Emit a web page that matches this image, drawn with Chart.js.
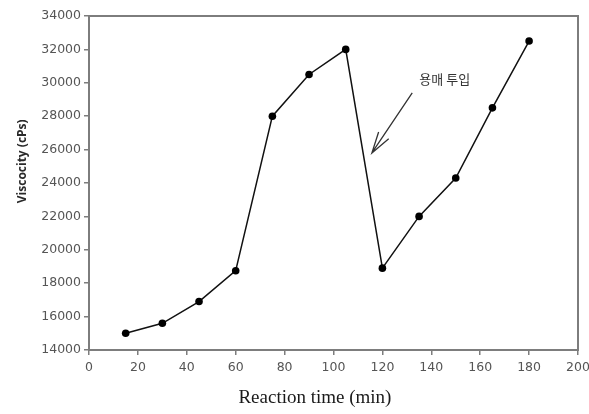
<!DOCTYPE html>
<html lang="en">
<head>
    <meta charset="UTF-8">
    <title>Viscosity vs reaction time</title>
    <script src="https://cdn.jsdelivr.net/npm/chart.js"></script>
    <style>
        html, body { margin: 0; padding: 0; background: #fff; }
        .chart-container { width: 589px; height: 414px; position: relative; }
    </style>
</head>
<body>
    <div class="chart-container">
        <canvas id="viscosityChart"></canvas>
    </div>

    <script>
        // reaction time (min) and viscosity (cPs)
        const times = [15, 30, 45, 60, 75, 90, 105, 120, 135, 150, 165, 180];
        const viscosity = [15000, 15600, 16900, 18750, 28000, 30500, 32000, 18900, 22000, 24300, 28500, 32500];

        const xTicks = [0, 20, 40, 60, 80, 100, 120, 140, 160, 180, 200];
        const yTicks = [14000, 16000, 18000, 20000, 22000, 24000, 26000, 28000, 30000, 32000, 34000];

        const xTitle = 'Reaction time (min)';
        const yTitle = 'Viscocity (cPs)';

        // solvent-addition note and its arrow, in data units
        const noteText = '용매 투입';
        const noteAt = [145.5, 30250];
        const arrowFrom = [132.2, 29400];
        const arrowTo = [115.7, 25800];

        const points = times.map((t, i) => ({ x: t, y: viscosity[i] }));

        // box around the plot, titles and the note
        const extras = {
            id: 'extras',
            afterDraw(chart) {
                const ctx = chart.ctx;
                const a = chart.chartArea;
                const xs = chart.scales.x;
                const ys = chart.scales.y;
                ctx.save();

                ctx.strokeStyle = '#7d7d7d';
                ctx.lineWidth = 2;
                ctx.strokeRect(a.left, a.top, a.right - a.left, a.bottom - a.top);

                ctx.fillStyle = '#1a1a1a';
                ctx.font = '19px "Liberation Serif", serif';
                ctx.textAlign = 'center';
                ctx.textBaseline = 'middle';
                ctx.fillText(xTitle, a.left + (a.right - a.left) * 0.462, 398);

                ctx.save();
                ctx.translate(23, a.top + (a.bottom - a.top) * 0.435);
                ctx.rotate(-Math.PI / 2);
                ctx.font = 'bold 12px "Open Sans", sans-serif';
                ctx.fillStyle = '#2a2a2a';
                ctx.fillText(yTitle, 0, 0);
                ctx.restore();

                ctx.font = '13px "Noto Sans CJK KR", sans-serif';
                ctx.fillStyle = '#333';
                ctx.fillText(noteText, xs.getPixelForValue(noteAt[0]), ys.getPixelForValue(noteAt[1]));

                const x1 = xs.getPixelForValue(arrowFrom[0]), y1 = ys.getPixelForValue(arrowFrom[1]);
                const x2 = xs.getPixelForValue(arrowTo[0]), y2 = ys.getPixelForValue(arrowTo[1]);
                const ang = Math.atan2(y2 - y1, x2 - x1);
                ctx.strokeStyle = '#333';
                ctx.lineWidth = 1.3;
                ctx.beginPath();
                ctx.moveTo(x1, y1);
                ctx.lineTo(x2, y2);
                ctx.moveTo(x2 - 22 * Math.cos(ang - 0.28), y2 - 22 * Math.sin(ang - 0.28));
                ctx.lineTo(x2, y2);
                ctx.lineTo(x2 - 22 * Math.cos(ang + 0.28), y2 - 22 * Math.sin(ang + 0.28));
                ctx.stroke();

                ctx.restore();
            }
        };

        const tickFont = { family: '"DejaVu Sans", Verdana, sans-serif', size: 12.5 };

        new Chart(document.getElementById('viscosityChart'), {
            type: 'line',
            data: {
                datasets: [{
                    data: points,
                    borderColor: '#111',
                    borderWidth: 1.5,
                    backgroundColor: '#000',
                    pointRadius: 3.8,
                    pointBorderWidth: 0,
                    pointBackgroundColor: '#000',
                    tension: 0
                }]
            },
            options: {
                responsive: true,
                maintainAspectRatio: false,
                animation: false,
                layout: { padding: { top: 16, right: 11, left: 0, bottom: 0 } },
                plugins: { legend: { display: false }, tooltip: { enabled: false } },
                scales: {
                    x: {
                        type: 'linear',
                        min: 0,
                        max: 200,
                        afterBuildTicks: s => { s.ticks = xTicks.map(v => ({ value: v })); },
                        afterFit: s => { s.height = 64; s.paddingLeft = 0; s.paddingRight = 0; },
                        grid: { drawOnChartArea: false, drawTicks: true, tickLength: 5, color: '#7d7d7d', lineWidth: 1.5 },
                        border: { display: true, color: '#7d7d7d', width: 2 },
                        ticks: { font: tickFont, color: '#555', padding: 5, maxRotation: 0, callback: v => String(v) }
                    },
                    y: {
                        type: 'linear',
                        min: 14000,
                        max: 34000,
                        afterBuildTicks: s => { s.ticks = yTicks.map(v => ({ value: v })); },
                        afterFit: s => { s.width = 89; },
                        grid: { drawOnChartArea: false, drawTicks: true, tickLength: 5, color: '#7d7d7d', lineWidth: 1.5 },
                        border: { display: true, color: '#7d7d7d', width: 2 },
                        ticks: { font: tickFont, color: '#555', padding: 3, callback: v => String(v) }
                    }
                }
            },
            plugins: [extras]
        });
    </script>
</body>
</html>
